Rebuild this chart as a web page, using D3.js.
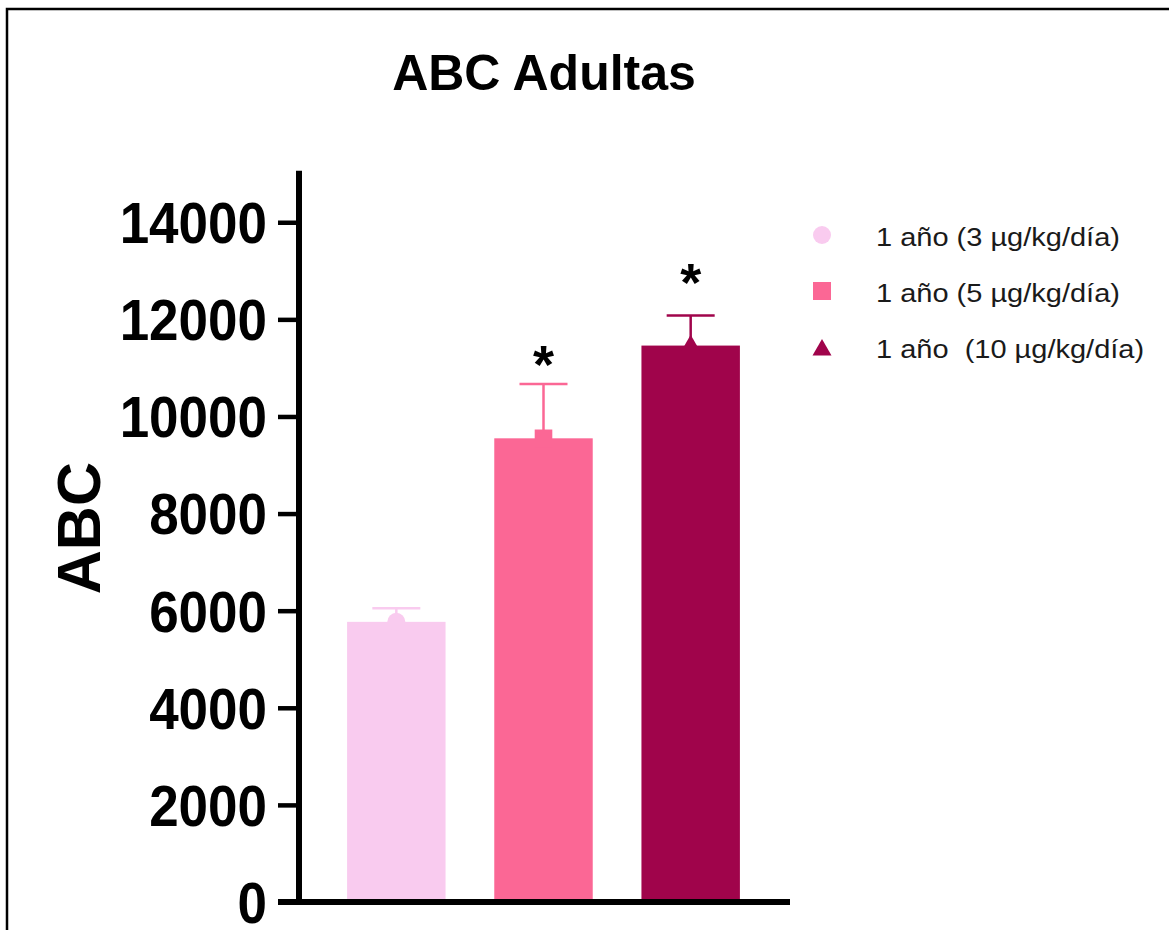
<!DOCTYPE html>
<html>
<head>
<meta charset="utf-8">
<script src="https://cdn.jsdelivr.net/npm/d3@7/dist/d3.min.js"></script>
<style>
  html, body { margin: 0; padding: 0; background: #fff; }
  svg { display: block; }
  text { font-family: "Liberation Sans", Arial, Helvetica, sans-serif; }
</style>
</head>
<body>
<svg id="chart" width="1169" height="930"></svg>
<script>
// Groups, means and SEM (upper error bar only)
const groups = ["1 año (3 µg/kg/día)", "1 año (5 µg/kg/día)", "1 año  (10 µg/kg/día)"];
const means = [5770, 9550, 11460];
const sem = [280, 1120, 620];
const colors = ["#F9CBEF", "#FB6795", "#A0044B"];
const symbols = [d3.symbolCircle, d3.symbolSquare, d3.symbolTriangle];
const significant = [false, true, true];
const starLevel = [null, 11230, 12920];
const yTicks = [0, 2000, 4000, 6000, 8000, 10000, 12000, 14000];
const yMax = 15000;

const svg = d3.select("#chart");

// Outer frame
svg.append("rect")
  .attr("x", 7).attr("y", 9)
  .attr("width", 1200).attr("height", 960)
  .attr("fill", "none").attr("stroke", "#000").attr("stroke-width", 2.5);

const y = d3.scaleLinear().domain([0, yMax]).range([902, 173.7]);
const x = d3.scaleBand().domain(groups).range([300, 787])
  .paddingInner(0.331).paddingOuter(0.32);
const axisX = 299;

// Title
svg.append("text")
  .attr("x", 544).attr("y", 90)
  .attr("text-anchor", "middle")
  .attr("font-size", 50).attr("font-weight", "bold")
  .text("ABC Adultas");

// Y axis label
svg.append("text")
  .attr("transform", `translate(100,${y(7700)}) rotate(-90)`)
  .attr("text-anchor", "middle")
  .attr("font-size", 61).attr("font-weight", "bold")
  .text("ABC");

// Bars
svg.append("g").selectAll("rect")
  .data(groups)
  .join("rect")
  .attr("x", d => x(d))
  .attr("width", x.bandwidth())
  .attr("y", (d, i) => y(means[i]))
  .attr("height", (d, i) => y(0) - y(means[i]))
  .attr("fill", (d, i) => colors[i]);

// Error bars and mean markers
const eb = svg.append("g");
groups.forEach((g, i) => {
  const cx = x(g) + x.bandwidth() / 2;
  eb.append("line")
    .attr("x1", cx).attr("x2", cx)
    .attr("y1", y(means[i])).attr("y2", y(means[i] + sem[i]))
    .attr("stroke", colors[i]).attr("stroke-width", 2.5);
  eb.append("line")
    .attr("x1", cx - 24).attr("x2", cx + 24)
    .attr("y1", y(means[i] + sem[i])).attr("y2", y(means[i] + sem[i]))
    .attr("stroke", colors[i]).attr("stroke-width", 2.5);
  eb.append("path")
    .attr("d", d3.symbol().type(symbols[i]).size(i === 0 ? 254 : (i === 1 ? 310 : 150))())
    .attr("transform", `translate(${cx},${y(means[i])})`)
    .attr("fill", colors[i]);
});

// Significance asterisks
svg.append("g").selectAll("text")
  .data(groups.filter((g, i) => significant[i]))
  .join("text")
  .attr("x", d => x(d) + x.bandwidth() / 2)
  .attr("y", d => y(starLevel[groups.indexOf(d)]))
  .attr("dy", "0.49em")
  .attr("text-anchor", "middle")
  .attr("font-size", 54).attr("font-weight", "bold")
  .text("*");

// Y axis
const yAxis = d3.axisLeft(y).tickValues(yTicks).tickSize(21).tickPadding(11)
  .tickFormat(d3.format("d"));
const ya = svg.append("g")
  .attr("transform", `translate(${axisX},0)`)
  .call(yAxis);
ya.select(".domain").remove();
ya.selectAll(".tick line").attr("stroke", "#000").attr("stroke-width", 4.5);
ya.selectAll(".tick text")
  .attr("font-size", 53).attr("font-weight", "bold")
  .attr("font-family", "'Liberation Sans', Arial, sans-serif")
  .attr("fill", "#000").attr("dy", "0.36em")
  .attr("transform", "scale(1,1.07)");
ya.append("line")
  .attr("x1", 0).attr("x2", 0)
  .attr("y1", y(yMax) - 3).attr("y2", y(0))
  .attr("stroke", "#000").attr("stroke-width", 6);

// X axis baseline
svg.append("line")
  .attr("x1", 278).attr("x2", 790)
  .attr("y1", y(0)).attr("y2", y(0))
  .attr("stroke", "#000").attr("stroke-width", 6);

// Legend
const legend = svg.append("g").attr("transform", "translate(822,0)");
groups.forEach((g, i) => {
  const ly = 235 + i * 56;
  legend.append("path")
    .attr("d", d3.symbol().type(symbols[i]).size(i === 0 ? 254 : (i === 1 ? 324 : 156))())
    .attr("transform", `translate(0,${ly + (i === 2 ? 3 : 0)})`)
    .attr("fill", colors[i]);
  legend.append("text")
    .attr("transform", `translate(54,${ly + 11}) scale(1.16,1)`)
    .attr("font-size", 25)
    .attr("fill", "#1a1a1a")
    .attr("xml:space", "preserve")
    .style("white-space", "pre")
    .text(g);
});
</script>
</body>
</html>
